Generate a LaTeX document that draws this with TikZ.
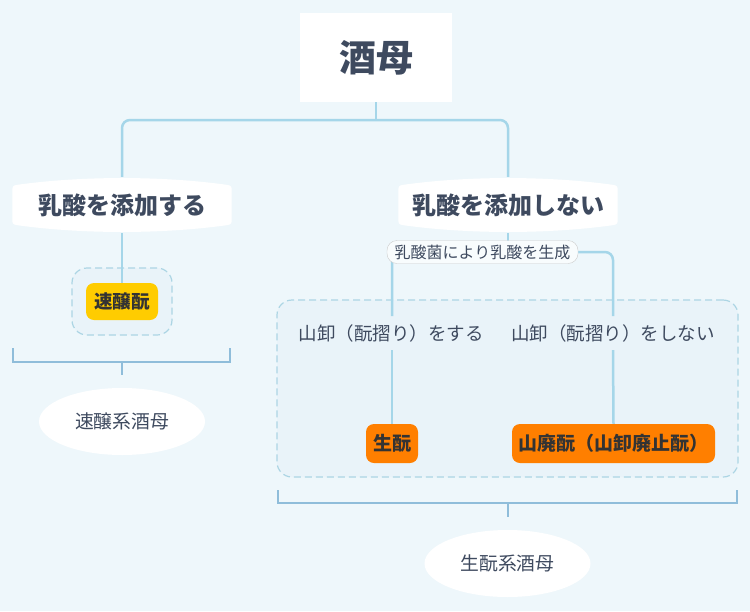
\documentclass[tikz,border=0pt]{standalone}
\usepackage{fontspec}
\setmainfont{Noto Sans CJK JP}
\usepackage{tikz}
\usetikzlibrary{shapes, positioning, calc, backgrounds}
\definecolor{bg}{HTML}{EEF7FB}
\definecolor{ink}{HTML}{3E4A5F}
\definecolor{wire}{HTML}{A5D6E9}
\definecolor{brace}{HTML}{8FBDDA}
\definecolor{grpfill}{HTML}{E9F3F9}
\definecolor{grpline}{HTML}{ACD5E4}
\definecolor{amber}{HTML}{FFCC00}
\definecolor{tangerine}{HTML}{FF7F00}
\tikzstyle{root} = [rectangle, fill = white, minimum width = 152, minimum height = 89,
  text = ink, font = \bfseries\fontsize{37}{40}\selectfont]
\tikzstyle{topic} = [minimum width = 219, minimum height = 56, text = ink,
  font = \bfseries\fontsize{24}{27}\selectfont]
\tikzstyle{plain} = [inner sep = 8, text = ink, font = \fontsize{18.5}{21}\selectfont]
\tikzstyle{tag} = [
  rectangle, rounded corners = 10,
  minimum width = 191, minimum height = 23, inner sep = 0,
  fill = white!60!bg, draw = black!20, text = ink,
  font = \fontsize{16}{18}\selectfont
]
\tikzstyle{yellowbox} = [rectangle, rounded corners = 8, fill = amber,
  minimum width = 72, minimum height = 37, text = black!80,
  font = \bfseries\fontsize{18.5}{20}\selectfont]
\tikzstyle{orangebox} = [rectangle, rounded corners = 8, fill = tangerine,
  minimum height = 39, text = black!80, font = \bfseries\fontsize{19}{21}\selectfont]
\tikzstyle{summary} = [ellipse, fill = white, minimum width = 166, minimum height = 67,
  text = ink, font = \fontsize{18.8}{21}\selectfont]
\tikzstyle{group} = [rectangle, rounded corners = 15, fill = grpfill,
  draw = grpline, dashed, dash pattern = on 7pt off 4pt, line width = 1.2]
\tikzstyle{conn} = [draw = wire, line width = 2.5]
\tikzstyle{bracket} = [draw = brace, line width = 2]
% white bulging shape behind a topic node
\newcommand{\topicfill}[1]{%
  \fill [white] ($(#1.north west)+(5,8)$)
    .. controls ($(#1.north west)+(70,-1)$) and ($(#1.north east)+(-70,-1)$) .. ($(#1.north east)+(-5,8)$)
    .. controls ($(#1.north east)+(0,9)$) .. ($(#1.north east)+(0,16)$)
    -- ($(#1.south east)+(0,-16)$)
    .. controls ($(#1.south east)+(0,-9)$) .. ($(#1.south east)+(-5,-8)$)
    .. controls ($(#1.south east)+(-70,1)$) and ($(#1.south west)+(70,1)$) .. ($(#1.south west)+(5,-8)$)
    .. controls ($(#1.south west)+(0,-9)$) .. ($(#1.south west)+(0,-16)$)
    -- ($(#1.north west)+(0,16)$)
    .. controls ($(#1.north west)+(0,9)$) .. cycle;}

\begin{document}
\begin{tikzpicture}[x = 1pt, y = -1pt, node distance = 0]
  \useasboundingbox (0, 0) rectangle (750, 611);
  \node [root] (jiubo) at (376, 57.5) {酒母};
  \node [topic] (add) at (122, 205) {乳酸を添加する};
  \node [topic] (noadd) at (508, 205) {乳酸を添加しない};
  \node [yellowbox] (sokujo) at (122, 301.5) {速醸酛};
  \node [tag] (lactic) at (482.5, 252) {乳酸菌により乳酸を生成};
  \node [plain] (yama) at (391, 333) {山卸（酛摺り）をする};
  \node [plain] (noyama) at (613, 333) {山卸（酛摺り）をしない};
  \node [orangebox, minimum width = 52] (kimoto) at (392, 443.5) {生酛};
  \node [orangebox, minimum width = 203] (yamahai) at (613.5, 443.5) {山廃酛（山卸廃止酛）};
  \node [summary] (sokujo-kei) at (122, 421.5) {速醸系酒母};
  \node [summary] (kimoto-kei) at (507.5, 563.5) {生酛系酒母};

  \coordinate (fork) at (376, 120);
  \coordinate (sum-a) at (122, 362);
  \coordinate (sum-b) at (507.5, 503);

  \begin{pgfonlayer}{background}
    \fill [bg] (0, 0) rectangle (750, 611);
    \node [group, minimum width = 100, minimum height = 67] (sokujo-grp) at (122, 301.5) {};
    \node [group, minimum width = 461, minimum height = 177] (kimoto-grp) at (507.5, 388.5) {};

    \draw [conn] (jiubo.south) -- (fork);
    \draw [conn, rounded corners = 8] (add.north) -- (add.north |- fork) -- (noadd.north |- fork) -- (noadd.north);
    \draw [conn] (add.south) -- (sokujo.north);
    \draw [conn] (noadd.south) -- (noadd.south |- lactic);
    \draw [conn, rounded corners = 8] (yama.north -| kimoto) -- (kimoto |- lactic) -- (noyama.north |- lactic) -- (noyama.north);
    \draw [conn] (yama.south -| kimoto) -- (kimoto.north);
    \draw [conn] (noyama.south) -- (yamahai.north);

    \draw [bracket] (13, 348) -- (13, 362) -- (230, 362) -- (230, 348);
    \draw [bracket] (sum-a) -- +(0, 13);
    \draw [bracket] (278, 490) -- (278, 503) -- (737, 503) -- (737, 490);
    \draw [bracket] (sum-b) -- +(0, 14);

    \topicfill{add}
    \topicfill{noadd}
  \end{pgfonlayer}
\end{tikzpicture}
\end{document}
